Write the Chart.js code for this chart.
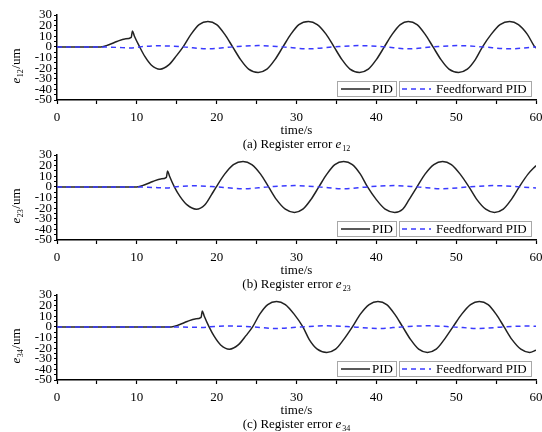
<!DOCTYPE html>
<html>
<head>
<meta charset="utf-8">
<script src="https://cdn.jsdelivr.net/npm/chart.js@4"></script>
<style>
  body { margin: 0; background: #fff; }
  #wrap { position: relative; width: 542px; height: 432px; overflow: hidden; }
  canvas { position: absolute; left: 0; }
</style>
</head>
<body>
<div id="wrap">
  <canvas id="c1" width="542" height="152" style="top:0px"></canvas>
  <canvas id="c2" width="542" height="152" style="top:140px"></canvas>
  <canvas id="c3" width="542" height="152" style="top:280px"></canvas>
</div>
<script>
// ---- data ----
// (a) e12
const pidTimeA = [0, 5.5, 6.5, 7.5, 8.5, 9.3, 9.45, 9.7, 10.35, 11, 11.8, 12.9, 14, 15, 15.8, 16.8, 17.8, 18.9, 20, 21, 22, 23, 24, 25.2, 26.3, 27.3, 28.3, 29.3, 30.3, 31.5, 32.6, 33.7, 34.7, 35.7, 36.7, 37.9, 39, 40, 41, 42, 43, 44, 45.1, 46.1, 47.1, 48.1, 49.1, 50.3, 51.4, 52.4, 53.3, 54.4, 55.5, 56.7, 57.8, 58.9, 59.85, 60];
const pidErrA  = [0, 0, 2, 5, 7.5, 9, 15, 10, 0, -9, -17, -21, -17, -8, 0, 12, 21, 24, 21, 12, 0, -12, -21, -24, -21, -12, 0, 12, 21, 24, 21, 12, 0, -12, -21, -24, -21, -12, 0, 12, 21, 24, 21, 12, 0, -12, -21, -24, -21, -12, 0, 12, 21, 24, 21, 12, 0, -1];
const ffTimeA  = [0, 5.5, 7.5, 9.4, 10.4, 12.9, 15.8, 18.9, 22, 25.2, 28.3, 31.5, 34.7, 37.9, 41, 44, 47.1, 50.3, 53.3, 56.7, 60];
const ffErrA   = [0, 0, -0.5, -1, 0, 1, 0, -1.8, 0, 1.2, 0, -1.8, 0, 1.2, 0, -1.8, 0, 1.2, 0, -1.8, 0];

// (b) e23
const pidTimeB = [0, 10, 11, 12, 13, 13.7, 13.85, 14.1, 14.7, 15.4, 16.3, 17.45, 18.5, 19.3, 19.95, 21, 22.1, 23.3, 24.4, 25.5, 26.5, 27.5, 28.6, 29.75, 30.8, 31.8, 32.8, 33.8, 34.8, 35.9, 37, 38, 38.9, 40, 41.1, 42.3, 43.3, 44.1, 45.1, 46.1, 47.2, 48.3, 49.4, 50.5, 51.6, 52.6, 53.7, 54.8, 55.9, 56.9, 57.9, 59, 60];
const pidErrB  = [0, 0, 2, 5, 7.5, 9, 15, 10, 0, -9, -17, -21, -17, -8, 0, 12, 21, 24, 21, 12, 0, -12, -21, -24, -21, -12, 0, 12, 21, 24, 21, 12, 0, -12, -21, -24, -21, -12, 0, 12, 21, 24, 21, 12, 0, -12, -21, -24, -21, -12, 0, 12, 20];
const ffTimeB  = [0, 10, 12, 13.8, 14.7, 17.45, 20, 23.3, 26.5, 29.75, 32.8, 35.9, 38.9, 42.3, 45.1, 48.3, 51.6, 54.8, 57.9, 60];
const ffErrB   = [0, 0, -0.5, -1, 0, 1, 0, -1.8, 0, 1.2, 0, -1.8, 0, 1.2, 0, -1.8, 0, 1.2, 0, -1];

// (c) e34
const pidTimeC = [0, 14.3, 15.3, 16.3, 17.3, 18.05, 18.2, 18.45, 19.05, 19.7, 20.5, 21.6, 22.7, 23.7, 24.5, 25.4, 26.4, 27.5, 28.6, 29.7, 30.8, 31.6, 32.6, 33.8, 34.9, 35.9, 37, 38, 39.1, 40.2, 41.3, 42.3, 43.3, 44.3, 45.3, 46.4, 47.5, 48.5, 49.6, 50.7, 51.8, 52.9, 54, 55, 56, 57, 58.1, 59.2, 60];
const pidErrC  = [0, 0, 2, 5, 7.5, 9, 15, 10, 0, -9, -17, -21, -17, -8, 0, 12, 21, 24, 21, 12, 0, -12, -21, -24, -21, -12, 0, 12, 21, 24, 21, 12, 0, -12, -21, -24, -21, -12, 0, 12, 21, 24, 21, 12, 0, -12, -21, -24, -22];
const ffTimeC  = [0, 14.5, 16.5, 18.2, 19, 21.6, 24.5, 27.5, 30.8, 33.8, 37, 40.2, 43.3, 46.4, 49.6, 52.9, 56, 59.2, 60];
const ffErrC   = [0, 0, -0.3, -0.5, 0, 0.8, 0, -1.5, 0, 1, 0, -1.5, 0, 1, 0, -1.5, 0, 0.8, 0.5];

const seriesNames = ['PID', 'Feedforward PID'];
const captionLetters = ['(a)', '(b)', '(c)'];
const errorSubs = ['12', '23', '34'];
const xMin = 0, xMax = 60, xStep = 5;
const yMin = -50, yMax = 30, yStep = 5;

const serif = '"Liberation Serif", "Times New Roman", serif';

function pts(xs, ys) {
    return xs.map((x, i) => ({ x: x, y: ys[i] }));
}

// draws axis title, caption and the boxed legend
const panelText = {
    id: 'panelText',
    afterDraw(chart, args, opts) {
        const ctx = chart.ctx;
        const a = chart.chartArea;
        const cx = (a.left + a.right) / 2;
        ctx.save();
        ctx.fillStyle = '#000';
        ctx.textBaseline = 'middle';

        // x title
        ctx.font = '13px ' + serif;
        ctx.textAlign = 'center';
        ctx.fillText('time/s', cx, 131);

        // caption with italic e and subscript
        ctx.textAlign = 'left';
        const lead = opts.letter + ' Register error ';
        ctx.font = '13px ' + serif;
        const w1 = ctx.measureText(lead).width;
        ctx.font = 'italic 13px ' + serif;
        const w2 = ctx.measureText('e').width;
        ctx.font = '8px ' + serif;
        const w3 = ctx.measureText(opts.sub).width;
        let x0 = cx - (w1 + w2 + w3 + 1) / 2;
        const cy = 144.5;
        ctx.font = '13px ' + serif;
        ctx.fillText(lead, x0, cy);
        ctx.font = 'italic 13px ' + serif;
        ctx.fillText('e', x0 + w1, cy);
        ctx.font = '8px ' + serif;
        ctx.fillText(opts.sub, x0 + w1 + w2 + 1, cy + 4);

        // y title (rotated)
        ctx.save();
        ctx.translate(17, 66);
        ctx.rotate(-Math.PI / 2);
        ctx.font = 'italic 13px ' + serif;
        const ew = ctx.measureText('e').width;
        ctx.font = '8px ' + serif;
        const sw = ctx.measureText(opts.sub).width;
        ctx.font = '13px ' + serif;
        const uw = ctx.measureText('/um').width;
        let tx = -(ew + sw + uw + 1) / 2;
        ctx.font = 'italic 13px ' + serif;
        ctx.fillText('e', tx, 0);
        ctx.font = '8px ' + serif;
        ctx.fillText(opts.sub, tx + ew + 0.5, 4);
        ctx.font = '13px ' + serif;
        ctx.fillText('/um', tx + ew + sw + 1, 0);
        ctx.restore();

        // legend boxes
        ctx.strokeStyle = '#a8a8a8';
        ctx.lineWidth = 1;
        ctx.strokeRect(337.5, 81.5, 59, 15);
        ctx.strokeRect(399.5, 81.5, 132, 15);
        ctx.lineWidth = 1.5;
        ctx.strokeStyle = '#222';
        ctx.beginPath();
        ctx.moveTo(341, 89);
        ctx.lineTo(370, 89);
        ctx.stroke();
        ctx.strokeStyle = '#3a3aff';
        ctx.setLineDash([5, 4]);
        ctx.beginPath();
        ctx.moveTo(402, 89);
        ctx.lineTo(431, 89);
        ctx.stroke();
        ctx.setLineDash([]);
        ctx.font = '13px ' + serif;
        ctx.fillStyle = '#000';
        ctx.fillText(seriesNames[0], 372, 89.5);
        ctx.fillText(seriesNames[1], 436, 89.5);
        ctx.restore();
    }
};

function makePanel(id, pidT, pidE, ffT, ffE, idx) {
    const ctx = document.getElementById(id).getContext('2d');
    return new Chart(ctx, {
        type: 'line',
        data: {
            datasets: [{
                label: seriesNames[1],
                data: pts(ffT, ffE),
                borderColor: '#3a3aff',
                borderWidth: 1.5,
                borderDash: [5, 4],
                pointRadius: 0,
                cubicInterpolationMode: 'monotone',
                order: 1
            }, {
                label: seriesNames[0],
                data: pts(pidT, pidE),
                borderColor: '#222',
                borderWidth: 1.5,
                pointRadius: 0,
                cubicInterpolationMode: 'monotone',
                order: 2
            }]
        },
        options: {
            responsive: false,
            animation: false,
            devicePixelRatio: 1,
            layout: {
                autoPadding: false,
                padding: { left: 0, right: 6, top: 15, bottom: 0 }
            },
            plugins: {
                legend: { display: false },
                tooltip: { enabled: false },
                panelText: { letter: captionLetters[idx], sub: errorSubs[idx] }
            },
            scales: {
                x: {
                    type: 'linear',
                    min: xMin,
                    max: xMax,
                    afterFit: function(scale) {
                        scale.height = 52;
                        scale.paddingLeft = 0;
                        scale.paddingRight = 0;
                    },
                    border: { display: true, color: '#000', width: 1.5 },
                    grid: { drawOnChartArea: false, color: '#000', tickLength: 4, tickWidth: 1.2 },
                    ticks: {
                        stepSize: xStep,
                        autoSkip: false,
                        maxRotation: 0,
                        padding: 6,
                        color: '#000',
                        font: { family: serif, size: 13 },
                        callback: function(v) { return v % 10 === 0 ? v : ''; }
                    }
                },
                y: {
                    min: yMin,
                    max: yMax,
                    afterFit: function(scale) {
                        scale.width = 57;
                        scale.paddingTop = 0;
                        scale.paddingBottom = 0;
                    },
                    border: { display: true, color: '#000', width: 1.5 },
                    grid: { drawOnChartArea: false, color: '#000', tickLength: 3, tickWidth: 1.2 },
                    ticks: {
                        stepSize: yStep,
                        autoSkip: false,
                        padding: 2,
                        color: '#000',
                        font: { family: serif, size: 13, lineHeight: 1 },
                        callback: function(v) { return v % 10 === 0 ? v : ''; }
                    }
                }
            }
        },
        plugins: [panelText]
    });
}

makePanel('c1', pidTimeA, pidErrA, ffTimeA, ffErrA, 0);
makePanel('c2', pidTimeB, pidErrB, ffTimeB, ffErrB, 1);
makePanel('c3', pidTimeC, pidErrC, ffTimeC, ffErrC, 2);
</script>
</body>
</html>
